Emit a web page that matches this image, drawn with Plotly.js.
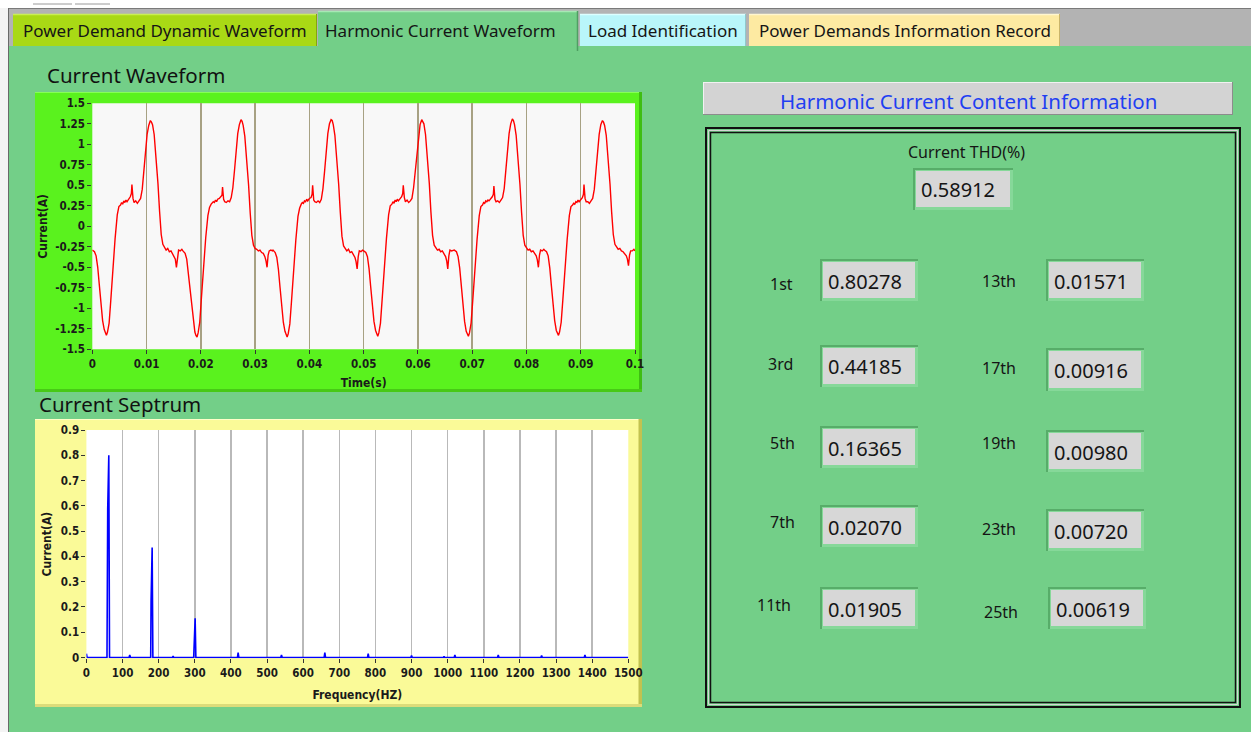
<!DOCTYPE html>
<html>
<head>
<meta charset="utf-8">
<script src="https://cdn.plot.ly/plotly-3.0.1.min.js"></script>
<style>
  html, body { margin: 0; padding: 0; background: #73cf88; overflow: hidden; }
  #chart { width: 1251px; height: 732px; }
</style>
</head>
<body>
<div id="chart"></div>
<script>
// ---------------- DATA ----------------
const tabLabels = ['Power Demand Dynamic Waveform', 'Harmonic Current Waveform', 'Load Identification', 'Power Demands Information Record'];

const timeCycle1 = [0.0000,0.0004,0.0007,0.0010,0.0013,0.0016,0.0019,0.0022,0.0024,0.0026,0.0028,0.0031,0.0034,0.0038,0.0042,0.0046,0.0049,0.0052,0.0054,0.0056,0.0058,0.0060,0.0062,0.0064,0.0067,0.0070,0.0072,0.0073,0.0075,0.0077,0.0080,0.0083,0.0086,0.0089,0.0092,0.0095,0.0098,0.0101,0.0104,0.0107,0.0109,0.0111,0.0114,0.0117,0.0121,0.0124,0.0127,0.0130,0.0133,0.0136,0.0139,0.0142,0.0145,0.0148,0.0151,0.0153,0.0155,0.0157,0.0159,0.0162,0.0165];
const currentCycle1 = [-0.29,-0.31,-0.36,-0.50,-0.72,-0.95,-1.15,-1.26,-1.31,-1.33,-1.29,-1.18,-0.91,-0.50,-0.15,0.14,0.24,0.26,0.29,0.27,0.31,0.29,0.32,0.30,0.33,0.36,0.40,0.51,0.34,0.29,0.31,0.28,0.31,0.34,0.45,0.66,0.92,1.12,1.23,1.29,1.27,1.24,1.12,0.89,0.52,0.18,-0.10,-0.22,-0.26,-0.29,-0.27,-0.31,-0.30,-0.34,-0.36,-0.40,-0.50,-0.36,-0.29,-0.30,-0.28];

const timeCycle2 = [0.0167,0.0171,0.0174,0.0177,0.0180,0.0183,0.0186,0.0189,0.0191,0.0193,0.0195,0.0198,0.0201,0.0205,0.0209,0.0213,0.0216,0.0219,0.0221,0.0223,0.0225,0.0227,0.0229,0.0231,0.0234,0.0237,0.0239,0.0240,0.0242,0.0244,0.0247,0.0250,0.0253,0.0256,0.0259,0.0262,0.0265,0.0268,0.0271,0.0274,0.0276,0.0278,0.0281,0.0284,0.0288,0.0291,0.0294,0.0297,0.0300,0.0303,0.0306,0.0309,0.0312,0.0315,0.0318,0.0320,0.0322,0.0324,0.0326,0.0329,0.0332];
const currentCycle2 = [-0.30,-0.33,-0.40,-0.58,-0.80,-1.00,-1.19,-1.29,-1.33,-1.35,-1.30,-1.17,-0.88,-0.48,-0.14,0.13,0.23,0.27,0.28,0.30,0.29,0.32,0.30,0.33,0.34,0.37,0.38,0.48,0.33,0.30,0.29,0.31,0.30,0.35,0.47,0.68,0.94,1.13,1.24,1.30,1.28,1.23,1.10,0.87,0.50,0.16,-0.11,-0.23,-0.27,-0.28,-0.30,-0.29,-0.32,-0.33,-0.37,-0.42,-0.50,-0.35,-0.30,-0.29,-0.30];

const timeCycle3 = [0.0333,0.0337,0.0340,0.0343,0.0346,0.0349,0.0352,0.0355,0.0357,0.0359,0.0361,0.0364,0.0367,0.0371,0.0375,0.0379,0.0382,0.0385,0.0387,0.0389,0.0391,0.0393,0.0395,0.0397,0.0400,0.0403,0.0405,0.0406,0.0408,0.0410,0.0413,0.0416,0.0419,0.0422,0.0425,0.0428,0.0431,0.0434,0.0437,0.0440,0.0442,0.0444,0.0447,0.0450,0.0454,0.0457,0.0460,0.0463,0.0466,0.0469,0.0472,0.0475,0.0478,0.0481,0.0484,0.0486,0.0488,0.0490,0.0492,0.0495,0.0498];
const currentCycle3 = [-0.29,-0.32,-0.38,-0.53,-0.75,-0.97,-1.17,-1.28,-1.33,-1.35,-1.31,-1.19,-0.92,-0.52,-0.17,0.12,0.22,0.27,0.29,0.28,0.31,0.30,0.33,0.31,0.34,0.35,0.39,0.50,0.32,0.30,0.29,0.31,0.29,0.33,0.46,0.67,0.93,1.13,1.25,1.30,1.29,1.24,1.11,0.88,0.51,0.17,-0.12,-0.24,-0.28,-0.30,-0.28,-0.32,-0.31,-0.35,-0.38,-0.43,-0.52,-0.37,-0.30,-0.31,-0.29];

const timeCycle4 = [0.0500,0.0504,0.0507,0.0510,0.0513,0.0516,0.0519,0.0522,0.0524,0.0526,0.0528,0.0531,0.0534,0.0538,0.0542,0.0546,0.0549,0.0552,0.0554,0.0556,0.0558,0.0560,0.0562,0.0564,0.0567,0.0570,0.0572,0.0573,0.0575,0.0577,0.0580,0.0583,0.0586,0.0589,0.0592,0.0595,0.0598,0.0601,0.0604,0.0607,0.0609,0.0611,0.0614,0.0617,0.0621,0.0624,0.0627,0.0630,0.0633,0.0636,0.0639,0.0642,0.0645,0.0648,0.0651,0.0653,0.0655,0.0657,0.0659,0.0662,0.0665];
const currentCycle4 = [-0.30,-0.32,-0.37,-0.52,-0.74,-0.96,-1.16,-1.27,-1.32,-1.34,-1.30,-1.18,-0.90,-0.49,-0.15,0.14,0.25,0.27,0.30,0.28,0.32,0.30,0.33,0.31,0.34,0.36,0.40,0.50,0.35,0.30,0.32,0.29,0.31,0.34,0.47,0.67,0.93,1.12,1.24,1.30,1.28,1.25,1.12,0.89,0.52,0.17,-0.11,-0.23,-0.27,-0.29,-0.28,-0.31,-0.30,-0.34,-0.37,-0.42,-0.52,-0.36,-0.29,-0.30,-0.29];

const timeCycle5 = [0.0667,0.0671,0.0674,0.0677,0.0680,0.0683,0.0686,0.0689,0.0691,0.0693,0.0695,0.0698,0.0701,0.0705,0.0709,0.0713,0.0716,0.0719,0.0721,0.0723,0.0725,0.0727,0.0729,0.0731,0.0734,0.0737,0.0739,0.0740,0.0742,0.0744,0.0747,0.0750,0.0753,0.0756,0.0759,0.0762,0.0765,0.0768,0.0771,0.0774,0.0776,0.0778,0.0781,0.0784,0.0788,0.0791,0.0794,0.0797,0.0800,0.0803,0.0806,0.0809,0.0812,0.0815,0.0818,0.0820,0.0822,0.0824,0.0826,0.0829,0.0832];
const currentCycle5 = [-0.29,-0.31,-0.37,-0.51,-0.73,-0.96,-1.16,-1.28,-1.32,-1.34,-1.30,-1.18,-0.91,-0.51,-0.16,0.13,0.24,0.26,0.29,0.28,0.31,0.30,0.32,0.31,0.33,0.36,0.39,0.49,0.33,0.30,0.31,0.29,0.32,0.35,0.46,0.67,0.93,1.13,1.25,1.31,1.29,1.24,1.11,0.88,0.51,0.17,-0.11,-0.23,-0.26,-0.29,-0.28,-0.31,-0.30,-0.33,-0.36,-0.41,-0.50,-0.35,-0.29,-0.30,-0.28];

const timeCycle6 = [0.0833,0.0837,0.0840,0.0843,0.0846,0.0849,0.0852,0.0855,0.0857,0.0859,0.0861,0.0864,0.0867,0.0871,0.0875,0.0879,0.0882,0.0885,0.0887,0.0889,0.0891,0.0893,0.0895,0.0897,0.0900,0.0903,0.0905,0.0906,0.0908,0.0910,0.0913,0.0916,0.0919,0.0922,0.0925,0.0928,0.0931,0.0934,0.0937,0.0940,0.0942,0.0944,0.0947,0.0950,0.0954,0.0957,0.0960,0.0963,0.0966,0.0969,0.0972,0.0975,0.0978,0.0981,0.0984,0.0986,0.0988,0.0990,0.0992,0.0995,0.0998,0.1000];
const currentCycle6 = [-0.29,-0.31,-0.36,-0.51,-0.73,-0.95,-1.15,-1.27,-1.31,-1.33,-1.29,-1.17,-0.90,-0.50,-0.16,0.13,0.24,0.26,0.28,0.27,0.30,0.29,0.32,0.30,0.33,0.35,0.39,0.51,0.34,0.30,0.30,0.28,0.31,0.34,0.45,0.66,0.92,1.12,1.24,1.29,1.27,1.23,1.11,0.88,0.51,0.17,-0.10,-0.22,-0.26,-0.28,-0.27,-0.30,-0.31,-0.33,-0.36,-0.40,-0.48,-0.35,-0.30,-0.30,-0.28,-0.30];

const waveformYTickVals = [1.5,1.25,1,0.75,0.5,0.25,0,-0.25,-0.5,-0.75,-1,-1.25,-1.5];
const waveformYTickText = ['1.5','1.25','1','0.75','0.5','0.25','0','-0.25','-0.5','-0.75','-1','-1.25','-1.5'];
const waveformXTickVals = [0,0.01,0.02,0.03,0.04,0.05,0.06,0.07,0.08,0.09,0.1];
const waveformXTickText = ['0','0.01','0.02','0.03','0.04','0.05','0.06','0.07','0.08','0.09','0.1'];

const spectrumFreq = [0,2,57,59,62,64,118,120,122,178,179,182,184,238,240,242,297,299,301,303,418,420,422,538,540,542,658,660,662,778,780,782,898,900,902,988,990,992,1018,1020,1022,1138,1140,1142,1258,1260,1262,1378,1380,1382,1500];
const spectrumAmp = [0.015,0,0,0.59,0.80,0,0,0.01,0,0,0.225,0.435,0,0,0.006,0,0,0.075,0.155,0,0,0.02,0,0,0.01,0,0,0.02,0,0,0.015,0,0,0.008,0,0,0.005,0,0,0.01,0,0,0.01,0,0,0.008,0,0,0.01,0,0];

const thdValue = 0.58912;
const harmonicLabels = ['1st','3rd','5th','7th','11th','13th','17th','19th','23th','25th'];
const harmonicValues = [0.80278,0.44185,0.16365,0.02070,0.01905,0.01571,0.00916,0.00980,0.00720,0.00619];

// ---------------- LAYOUT HELPERS ----------------
const W = 1251, H = 732;
const fx = v => v / W;
const fy = v => 1 - v / H;
const shapes = [];
const annotations = [];
const UI_FONT = 'Noto Sans, Open Sans, DejaVu Sans, sans-serif';
const TICK_FONT = 'Liberation Sans Narrow, DejaVu Sans Condensed, Roboto, sans-serif';

function rect(x0, y0, x1, y1, fill, lineColor, lineWidth) {
  shapes.push({type:'rect', xref:'paper', yref:'paper', layer:'below',
    x0: fx(x0), x1: fx(x1), y0: fy(y1), y1: fy(y0),
    fillcolor: fill || 'rgba(0,0,0,0)',
    line: {color: lineColor || 'rgba(0,0,0,0)', width: lineWidth || 0}});
}
function seg(x0, y0, x1, y1, color, width) {
  shapes.push({type:'line', xref:'paper', yref:'paper', layer:'below',
    x0: fx(x0), x1: fx(x1), y0: fy(y0), y1: fy(y1), line: {color: color, width: width}});
}
function text(str, x, y, size, color, xanchor, family) {
  annotations.push({xref:'paper', yref:'paper', x: fx(x), y: fy(y), text: str, showarrow:false,
    xanchor: xanchor || 'center', yanchor:'middle',
    font: {family: family || UI_FONT, size: size, color: color || '#111'}});
}
function valueBox(x0, y0, x1, y1, str) {
  rect(x0, y0, x1, y1, '#57ad69');
  rect(x0 + 2, y0 + 2, x1, y1, '#86d899');
  rect(x0 + 3, y0 + 3, x1 - 3, y1 - 3, '#d7d7d7');
  text(str, x0 + 6, (y0 + y1) / 2 + 1, 20, '#151515', 'left');
}

// ---------------- BACKGROUND / TABS ----------------
rect(0, 0, W, 8, '#ffffff');
seg(33, 4, 72, 4, '#9a9a9a', 1);
seg(75, 4, 110, 4, '#9a9a9a', 1);
rect(0, 8, 9, H, '#f4f4f4');
seg(8.5, 8, 8.5, H, '#6a6a6a', 1);
rect(9, 8, W, 47, '#b3b3b3');
seg(9, 8.5, W, 8.5, '#7a7a7a', 1);

// tabs
rect(13, 14, 317, 47, '#a9d915'); seg(13, 14.5, 317, 14.5, '#c9ef53', 1.5); seg(316.5, 14, 316.5, 47, '#7fa90c', 1);
rect(580, 14, 746, 47, '#b9f6fa'); seg(580, 14.5, 746, 14.5, '#dcffff', 1.5); seg(745.5, 14, 745.5, 47, '#8fc9cc', 1);
rect(749, 14, 1060, 47, '#fdeaa2'); seg(749, 14.5, 1060, 14.5, '#fff6cf', 1.5); seg(1059.5, 14, 1059.5, 47, '#c9b46a', 1);
rect(9, 46, W, H, '#73cf88');
rect(318, 11, 578, 51, '#73cf88'); seg(318, 11.5, 578, 11.5, '#a6e9b4', 1.5); seg(577.5, 11, 577.5, 51, '#4f9f62', 1.5);
text(tabLabels[0], 165, 31, 17, '#151515');
text(tabLabels[1], 441, 31, 17, '#151515');
text(tabLabels[2], 663, 31, 17, '#151515');
text(tabLabels[3], 905, 31, 17, '#151515');

// ---------------- CHART FRAMES ----------------
text('Current Waveform', 45, 75, 20.5, '#111', 'left');
rect(35, 92, 642, 392, '#5af21e');
seg(35, 92.5, 642, 92.5, '#86ff56', 1);
rect(639, 92, 642, 392, '#3fbd13');
rect(35, 389, 642, 392, '#47c916');
rect(92.3, 103.3, 635, 349.3, '#f8f8f8');

text('Current Septrum', 37, 404, 20.5, '#111', 'left');
rect(35, 419, 642, 707, '#fafa98');
seg(35, 419.5, 642, 419.5, '#ffffc8', 1);
rect(638.5, 419, 642, 707, '#c2c250');
rect(35, 704, 642, 707, '#dcdc7a');
rect(86.4, 430, 628.3, 658.3, '#ffffff');

// ---------------- RIGHT PANEL ----------------
rect(703, 82, 1233, 115, '#d3d3d3');
seg(703, 82.5, 1233, 82.5, '#f2f2f2', 1);
seg(703.5, 82, 703.5, 115, '#f2f2f2', 1);
seg(703, 114.5, 1233, 114.5, '#8c8c8c', 1);
seg(1232.5, 82, 1232.5, 115, '#8c8c8c', 1);
text('Harmonic Current Content Information', 968, 101, 20.5, '#1f3ff2');

rect(706, 128, 1240, 707, null, '#111111', 2);
rect(708.5, 130.5, 1237.5, 704.5, null, '#d6d6d6', 1);
rect(710.5, 132.5, 1235.5, 702.5, null, '#111111', 1.5);

text('Current THD(%)', 966, 152, 16, '#151515');
valueBox(913, 168, 1013, 210, thdValue.toFixed(5));

const leftBoxes = [[820,259,918,301],[820,345,918,387],[820,426,918,468],[820,505,918,547],[820,587,918,629]];
const rightBoxes = [[1046,259,1144,301],[1046,348,1144,391],[1046,430,1144,472],[1046,509,1144,551],[1048,587,1146,629]];
const leftLabelPos = [[781,284],[780,364],[782,443],[782,522],[774,605]];
const rightLabelPos = [[999,281],[999,368],[999,443],[999,529],[1001,612]];
for (let i = 0; i < 5; i++) {
  const b = leftBoxes[i];
  valueBox(b[0], b[1], b[2], b[3], harmonicValues[i].toFixed(5));
  text(harmonicLabels[i], leftLabelPos[i][0], leftLabelPos[i][1], 16, '#151515');
  const r = rightBoxes[i];
  valueBox(r[0], r[1], r[2], r[3], harmonicValues[i + 5].toFixed(5));
  text(harmonicLabels[i + 5], rightLabelPos[i][0], rightLabelPos[i][1], 16, '#151515');
}

// ---------------- TRACES ----------------
const waveformTime = [].concat(timeCycle1, timeCycle2, timeCycle3, timeCycle4, timeCycle5, timeCycle6);
const waveformCurrent = [].concat(currentCycle1, currentCycle2, currentCycle3, currentCycle4, currentCycle5, currentCycle6);

const traces = [
  {type:'scatter', mode:'lines', x: waveformTime, y: waveformCurrent, xaxis:'x', yaxis:'y',
   line:{color:'#ff0000', width:1.4}, hoverinfo:'skip', showlegend:false},
  {type:'scatter', mode:'lines', x: spectrumFreq, y: spectrumAmp, xaxis:'x2', yaxis:'y2',
   line:{color:'#0000ff', width:1.6}, hoverinfo:'skip', showlegend:false}
];

const tickFont = {family: TICK_FONT, size: 11.5, color: '#1a1a1a', weight: 'bold'};
const titleFont = {family: TICK_FONT, size: 12, color: '#1a1a1a', weight: 'bold'};

const layout = {
  width: W, height: H,
  margin: {l:0, r:0, t:0, b:0},
  paper_bgcolor: '#73cf88',
  plot_bgcolor: 'rgba(0,0,0,0)',
  showlegend: false,
  xaxis: {
    domain: [fx(92.3), fx(635)], anchor: 'y', range: [0, 0.1],
    tickmode: 'array', tickvals: waveformXTickVals, ticktext: waveformXTickText,
    showgrid: true, gridcolor: '#a7a183', gridwidth: 1.5, zeroline: false, showline: false,
    ticks: 'outside', ticklen: 4, tickcolor: '#333', tickfont: tickFont,
    title: {text: 'Time(s)', font: titleFont, standoff: 8}
  },
  yaxis: {
    domain: [fy(349.3), fy(103.3)], anchor: 'x', range: [-1.5, 1.5],
    tickmode: 'array', tickvals: waveformYTickVals, ticktext: waveformYTickText,
    showgrid: false, zeroline: false, showline: false,
    ticks: 'outside', ticklen: 4, tickcolor: '#333', tickfont: tickFont,
    title: {text: 'Current(A)', font: titleFont, standoff: 4}
  },
  xaxis2: {
    domain: [fx(86.4), fx(628.3)], anchor: 'y2', range: [0, 1500], dtick: 100, tick0: 0,
    showgrid: true, gridcolor: '#b9b9b9', gridwidth: 1.5, zeroline: false, showline: false,
    ticks: 'outside', ticklen: 4, tickcolor: '#333', tickfont: tickFont,
    title: {text: 'Frequency(HZ)', font: titleFont, standoff: 11}
  },
  yaxis2: {
    domain: [fy(658.3), fy(430)], anchor: 'x2', range: [-0.003, 0.9], dtick: 0.1, tick0: 0,
    showgrid: false, zeroline: false, showline: false,
    ticks: 'outside', ticklen: 4, tickcolor: '#333', tickfont: tickFont,
    title: {text: 'Current(A)', font: titleFont, standoff: 6}
  },
  shapes: shapes,
  annotations: annotations
};

Plotly.newPlot('chart', traces, layout, {staticPlot: true, displayModeBar: false});
</script>
</body>
</html>
